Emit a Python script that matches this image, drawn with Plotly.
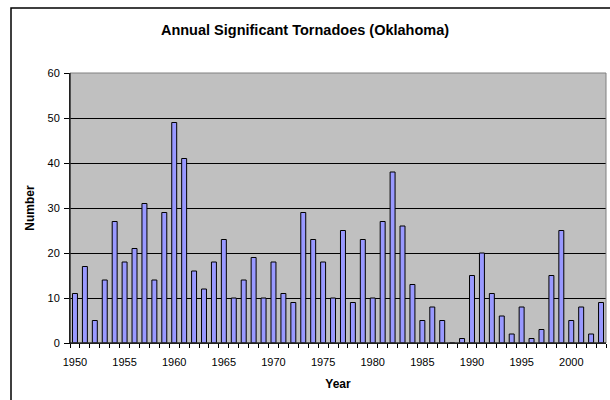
import plotly.graph_objects as go

years = list(range(1950, 2004))
counts = [11, 17, 5, 14, 27, 18, 21, 31, 14, 29,
          49, 41, 16, 12, 18, 23, 10, 14, 19, 10,
          18, 11, 9, 29, 23, 18, 10, 25, 9, 23,
          10, 27, 38, 26, 13, 5, 8, 5, 0, 1,
          15, 20, 11, 6, 2, 8, 1, 3, 15, 25,
          5, 8, 2, 9]
tick_years = [1950, 1955, 1960, 1965, 1970, 1975, 1980, 1985, 1990, 1995, 2000]
y_ticks = [0, 10, 20, 30, 40, 50, 60]

FONT = "Liberation Sans, Arial, sans-serif"

fig = go.Figure()
fig.add_trace(go.Bar(
    x=years, y=counts,
    marker=dict(color="#9999FF", line=dict(color="black", width=1)),
    width=0.5,
))

fig.update_layout(
    width=610, height=400,
    margin=dict(l=70, r=4, t=73, b=57, autoexpand=False),
    paper_bgcolor="white",
    plot_bgcolor="#C0C0C0",
    showlegend=False,
    font=dict(family=FONT, color="black", size=11),
    title=dict(text="<b>Annual Significant Tornadoes (Oklahoma)</b>",
               x=0.5, xref="container", xanchor="center",
               y=1 - 30 / 400, yref="container", yanchor="middle",
               font=dict(size=14.5, family=FONT, color="black")),
    xaxis=dict(
        range=[1949.5, 2003.5],
        tickmode="array", tickvals=tick_years,
        ticktext=[str(t) for t in tick_years],
        ticks="", showgrid=False, zeroline=False,
        showline=True, linecolor="black", linewidth=1,
        mirror=False,
        minor=dict(tickmode="array",
                   tickvals=[y - 0.5 for y in years] + [2003.5],
                   ticks="outside", ticklen=4, tickcolor="black", tickwidth=1,
                   showgrid=False),
        ticklabelstandoff=9,
        title=dict(text="<b>Year</b>", font=dict(size=12, family=FONT), standoff=12),
        tickfont=dict(size=11, family=FONT),
        automargin=False,
    ),
    yaxis=dict(
        range=[0, 60], tickmode="array", tickvals=y_ticks,
        ticks="outside", ticklen=5, tickcolor="black",
        showgrid=True, gridcolor="black", gridwidth=1,
        zeroline=False, showline=True, linecolor="black", linewidth=1,
        ticklabelstandoff=2,
        title=dict(text="<b>Number</b>", font=dict(size=12, family=FONT), standoff=10),
        tickfont=dict(size=11, family=FONT),
        automargin=False,
    ),
)

# plot-area border (grey top/right) and outer chart frame
fig.add_shape(type="rect", xref="paper", yref="paper", x0=0, y0=0, x1=1, y1=1,
              line=dict(color="#808080", width=1), layer="above")
fig.add_shape(type="line", xref="paper", yref="paper", x0=0, y0=0, x1=0, y1=1,
              line=dict(color="black", width=1), layer="above")
fig.add_shape(type="line", xref="paper", yref="paper", x0=0, y0=0, x1=1, y1=0,
              line=dict(color="black", width=1), layer="above")
fig.add_shape(type="rect", xref="paper", yref="paper",
              x0=(11 - 70) / 536, x1=(615 - 70) / 536,
              y0=(343 - 405) / 270, y1=(343 - 8) / 270,
              line=dict(color="black", width=1.5), layer="above")

fig.write_html("out.html", config={"displayModeBar": False},
               post_script="document.body.style.margin='0';document.body.style.overflow='hidden';")
